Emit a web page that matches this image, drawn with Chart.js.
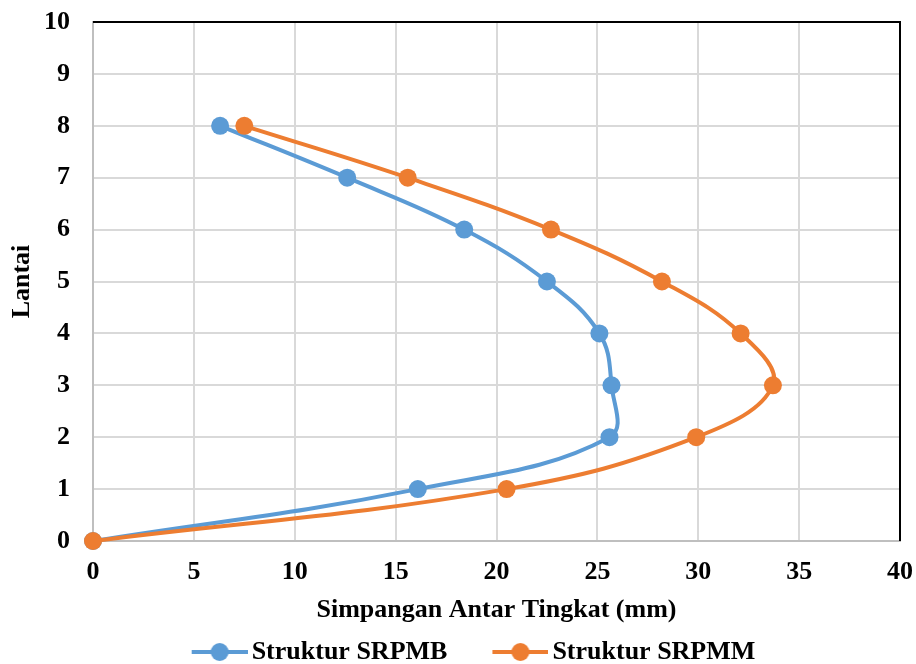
<!DOCTYPE html>
<html>
<head>
<meta charset="utf-8">
<script src="https://cdn.jsdelivr.net/npm/chart.js@4.4.1/dist/chart.umd.min.js"></script>
<style>
  html, body { margin: 0; padding: 0; background: #fff; }
  #wrap { width: 916px; height: 664px; }
</style>
</head>
<body>
<div id="wrap"><canvas id="chart"></canvas></div>
<script>
// Simpangan antar tingkat per lantai (mm)
const lantai = [0, 1, 2, 3, 4, 5, 6, 7, 8];
const simpanganSRPMB = [0, 16.1, 25.6, 25.7, 25.1, 22.5, 18.4, 12.6, 6.3];
const simpanganSRPMM = [0, 20.5, 29.9, 33.7, 32.1, 28.2, 22.7, 15.6, 7.5];

const BLUE = "#5B9BD5";
const ORANGE = "#ED7D31";
const FONT = "'Liberation Serif', 'Times New Roman', serif";
const FONT_SIZE = 26;

function toPoints(xs) {
  return xs.map((x, i) => ({ x: x, y: lantai[i] }));
}

// legend symbol: line with circle marker, transparent gap on the left
// so items sit further apart while the marker stays close to its text
const SYM_BOX = 72;
function legendSymbol(color) {
  const c = document.createElement("canvas");
  c.width = SYM_BOX + 18; c.height = 22;
  const g = c.getContext("2d");
  const x0 = c.width - 56;
  g.strokeStyle = color;
  g.lineWidth = 4;
  g.beginPath(); g.moveTo(x0, 11); g.lineTo(c.width, 11); g.stroke();
  g.fillStyle = color;
  g.beginPath(); g.arc(x0 + 28, 11, 9, 0, Math.PI * 2); g.fill();
  return c;
}

// black frame on top and right edges of the plot area
const frame = {
  id: "frame",
  beforeDatasetsDraw(chart) {
    const { ctx, chartArea: a } = chart;
    ctx.save();
    ctx.strokeStyle = "#000";
    ctx.lineWidth = 2;
    ctx.beginPath();
    ctx.moveTo(a.left, a.top);
    ctx.lineTo(a.right, a.top);
    ctx.lineTo(a.right, a.bottom);
    ctx.stroke();
    ctx.restore();
  }
};

// order: SRPMM is drawn over SRPMB
const series = [
  { label: "Struktur SRPMB", data: simpanganSRPMB, color: BLUE, order: 1 },
  { label: "Struktur SRPMM", data: simpanganSRPMM, color: ORANGE, order: 0 }
];

const font = { family: FONT, size: FONT_SIZE, weight: "bold", lineHeight: 1 };

new Chart(document.getElementById("chart"), {
  type: "scatter",
  data: {
    datasets: series.map(s => ({
      label: s.label,
      data: toPoints(s.data),
      order: s.order,
      showLine: true,
      borderColor: s.color,
      backgroundColor: s.color,
      borderWidth: 4,
      pointRadius: 9,
      pointHoverRadius: 9,
      pointBorderWidth: 0,
      tension: 0.4,
      clip: false
    }))
  },
  options: {
    responsive: true,
    maintainAspectRatio: false,
    animation: false,
    layout: { padding: { top: 0, right: 0, left: 6, bottom: -11 } },
    plugins: {
      tooltip: { enabled: false },
      legend: {
        position: "bottom",
        labels: {
          usePointStyle: true,
          pointStyleWidth: SYM_BOX,
          padding: 20,
          color: "#000",
          font: font,
          generateLabels: chart => series.map((s, i) => ({
            text: s.label,
            pointStyle: legendSymbol(s.color),
            fillStyle: s.color,
            strokeStyle: s.color,
            lineWidth: 0,
            datasetIndex: i,
            fontColor: "#000"
          }))
        }
      }
    },
    scales: {
      x: {
        type: "linear",
        min: 0,
        max: 40,
        ticks: { stepSize: 5, color: "#000", padding: 18, font: font },
        grid: { color: "#d9d9d9", lineWidth: 2, drawTicks: false },
        border: { color: "#bfbfbf", width: 2 },
        // only leave room for half of the last tick label on the right
        afterFit: scale => { scale.paddingRight = 16; },
        title: {
          display: true,
          text: "Simpangan Antar Tingkat (mm)",
          color: "#000",
          padding: { top: -6, bottom: -4 },
          font: font
        }
      },
      y: {
        type: "linear",
        min: 0,
        max: 10,
        ticks: { stepSize: 1, color: "#000", padding: 23, font: font },
        grid: { color: "#d9d9d9", lineWidth: 2, drawTicks: false },
        border: { color: "#bfbfbf", width: 2 },
        // top label "10" only needs half its height above the plot
        afterFit: scale => { scale.paddingTop = 22; },
        title: {
          display: true,
          text: "Lantai",
          color: "#000",
          padding: { top: 3, bottom: -14 },
          font: font
        }
      }
    }
  },
  plugins: [frame]
});
</script>
</body>
</html>
